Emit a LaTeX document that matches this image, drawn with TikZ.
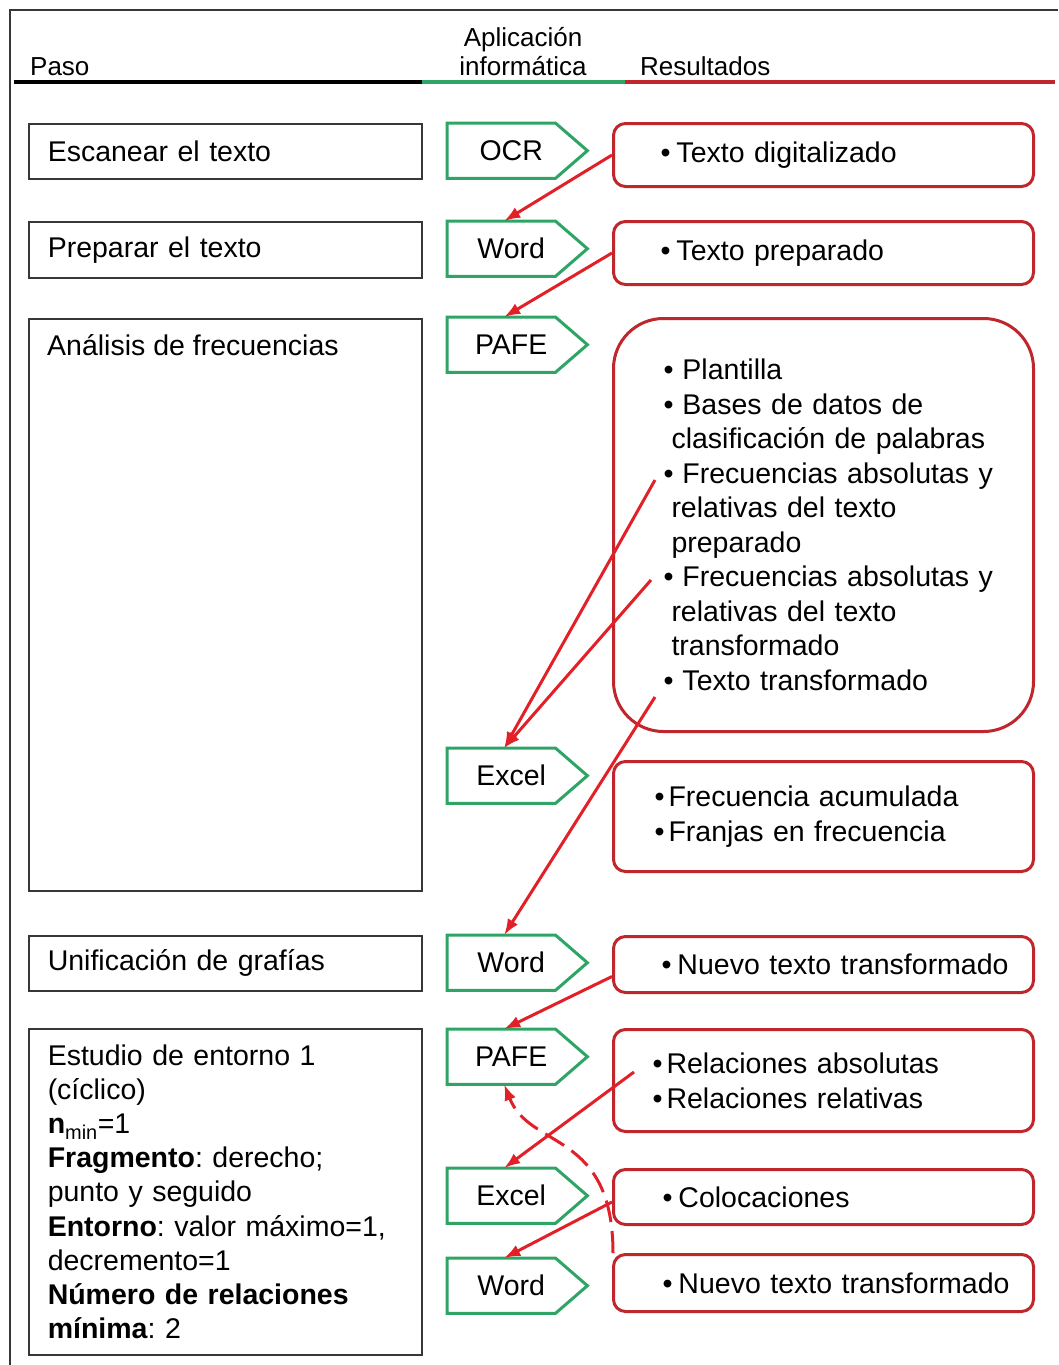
\documentclass[tikz,border=0pt]{standalone}
\usepackage{fontspec}
\setmainfont{Liberation Sans}
\usetikzlibrary{arrows.meta}
\definecolor{dred}{RGB}{192,39,45}
\definecolor{ared}{RGB}{226,32,40}
\definecolor{grn}{RGB}{46,165,100}
\definecolor{frm}{RGB}{55,55,55}
\frenchspacing
\newcommand\bl[2]{\hspace*{#1pt}\makebox[#2pt][l]{•}}
\newcommand\chevbox[3]{%
  \node[chev] (#1) at (447,#2) {#3};
  \draw[chevline] (#1.north west) -- ([xshift=-20pt]#1.north east) -- ([xshift=12pt]#1.east)
     -- ([xshift=-20pt]#1.south east) -- (#1.south west) -- cycle;}
\begin{document}
\begin{tikzpicture}[x=1pt,y=-1pt,
  every node/.style={font=\fontsize{28.5}{34.3}\selectfont},
  stepbox/.style={draw=frm, line width=1.5pt, anchor=north west, minimum width=393pt,
     text width=355pt, inner xsep=19pt, inner ysep=0pt, align=left},
  chev/.style={minimum width=128pt, minimum height=55pt, inner sep=0pt, anchor=north west},
  chevline/.style={draw=grn, line width=3pt, line join=miter},
  res/.style={draw=dred, line width=3pt, rounded corners=12pt, anchor=north west,
     minimum width=420pt, text width=380pt, inner xsep=20pt, inner ysep=0pt, align=left},
  flow/.style={draw=ared, line width=3pt, -{Latex[length=16pt,width=12pt]}},
  hdr/.style={font=\fontsize{26}{29}\selectfont, inner sep=0pt},
]
\fill[white] (0,0) rectangle (1058,1365);
\useasboundingbox (0,0) rectangle (1058,1365);
% frame
\draw[frm, line width=2pt] (10,1365) -- (10,10) -- (1058,10);
% header
\node[hdr, anchor=base west] (hpaso) at (30,75) {Paso};
\node[hdr, anchor=base, align=center] (happ) at (523,75) {Aplicación\\informática};
\node[hdr, anchor=base west] (hres) at (640,75) {Resultados};
\draw[black, line width=4pt] (14,82) -- (422,82);
\draw[grn, line width=4pt] (422,82) -- (625,82);
\draw[dred, line width=4pt] (625,82) -- (1055,82);
% steps
\node[stepbox, minimum height=55pt] (s1) at (28,123) {Escanear el texto};
\node[stepbox, minimum height=56pt] (s2) at (28,221) {Preparar el texto};
\node[stepbox, minimum height=572pt] (s3) at (28,318) {};
\node[anchor=base west, inner sep=0pt] (s3t) at (47,355) {Análisis de frecuencias};
\node[stepbox, minimum height=55pt] (s4) at (28,935) {Unificación de grafías};
\node[stepbox, minimum height=326pt, font=\fontsize{28.5}{34.1}\selectfont] (s5) at (28,1028)
 {Estudio de entorno 1\\
  (cíclico)\\
  \textbf{n}\textsubscript{min}=1\\
  \textbf{Fragmento}: derecho;\\
  punto y seguido\\
  \textbf{Entorno}: valor máximo=1,\\
  decremento=1\\
  \textbf{Número de relaciones}\\
  \textbf{mínima}: 2};
% applications
\chevbox{c1}{123}{OCR}
\chevbox{c2}{221}{Word}
\chevbox{c3}{317}{PAFE}
\chevbox{c4}{748}{Excel}
\chevbox{c5}{935}{Word}
\chevbox{c6}{1029}{PAFE}
\chevbox{c7}{1168}{Excel}
\chevbox{c8}{1258}{Word}
% results
\node[res, minimum height=63pt] (r1) at (612,122) {\bl{27}{16}Texto digitalizado};
\node[res, minimum height=63pt] (r2) at (612,220) {\bl{27}{16}Texto preparado};
\node[res, rounded corners=50pt, minimum height=413pt, font=\fontsize{28.5}{34.5}\selectfont] (r3) at (612,317)
 {\bl{30}{19}Plantilla\\
  \bl{30}{19}Bases de datos de\\
  \hspace*{38pt}clasificación de palabras\\
  \bl{30}{19}Frecuencias absolutas y\\
  \hspace*{38pt}relativas del texto\\
  \hspace*{38pt}preparado\\
  \bl{30}{19}Frecuencias absolutas y\\
  \hspace*{38pt}relativas del texto\\
  \hspace*{38pt}transformado\\
  \bl{30}{19}Texto transformado};
\node[res, minimum height=110pt, font=\fontsize{28.5}{35}\selectfont] (r4) at (612,760)
 {\bl{21}{14}Frecuencia acumulada\\ \bl{21}{14}Franjas en frecuencia};
\node[res, minimum height=56pt] (r5) at (612,935) {\bl{28}{16}Nuevo texto transformado};
\node[res, minimum height=102pt, font=\fontsize{28.5}{35}\selectfont] (r6) at (612,1028)
 {\bl{19}{14}Relaciones absolutas\\ \bl{19}{14}Relaciones relativas};
\node[res, minimum height=55pt] (r7) at (612,1168) {\bl{29}{16}Colocaciones};
\node[res, minimum height=57pt] (r8) at (612,1253) {\bl{29}{16}Nuevo texto transformado};
% arrow start points inside the results
\coordinate (f1) at (655,480);
\coordinate (f2) at (651,580);
\coordinate (f3) at (655,697);
\coordinate (g1) at (634,1072);
% connectors
\draw[flow] (r1.west) -- ([xshift=-7pt]c2.north);
\draw[flow] (r2.west) -- ([xshift=-7pt]c3.north);
\draw[flow] (f1) -- ([xshift=-7pt]c4.north);
\draw[flow] (f2) -- ([xshift=-7pt]c4.north);
\draw[flow] (f3) -- ([xshift=-7pt]c5.north);
\draw[flow] ([yshift=-12pt]r5.west) -- ([xshift=-7pt]c6.north);
\draw[flow] (g1) -- ([xshift=-7pt]c7.north);
\draw[flow] ([yshift=-5pt]r7.west) -- ([xshift=-7pt]c8.north);
\draw[flow, dash pattern=on 22pt off 9pt] ([xshift=1pt]r8.north west)
   .. controls (613,1130) and (530,1150) .. ([xshift=-7pt]c6.south);
\end{tikzpicture}
\end{document}
